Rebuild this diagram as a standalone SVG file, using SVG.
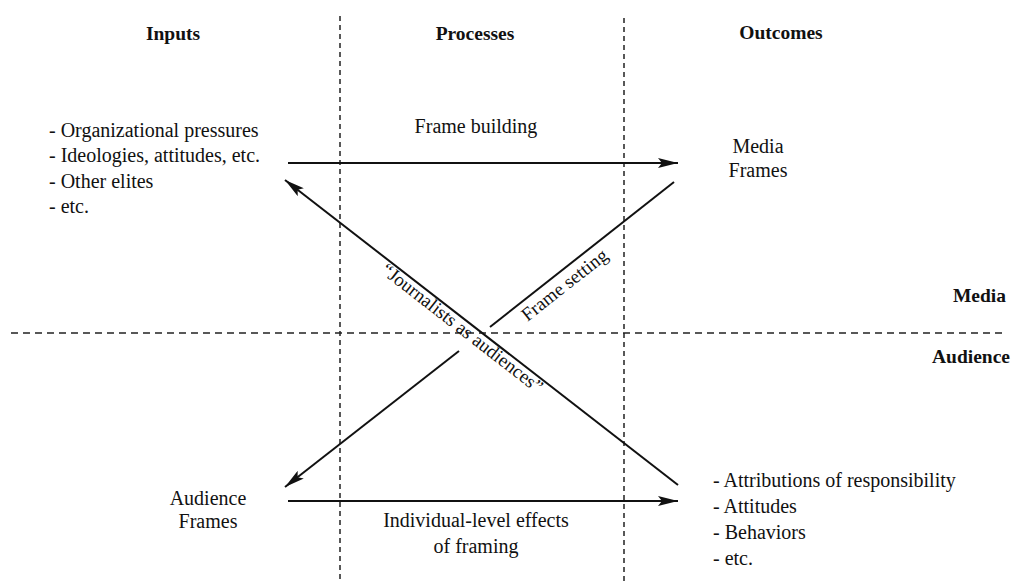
<svg xmlns="http://www.w3.org/2000/svg" width="1015" height="583" viewBox="0 0 1015 583">
  <style>
    text { font-family: "Liberation Serif", "Times New Roman", serif; fill: #111; font-size: 20px; }
    .hd { font-weight: bold; font-size: 19.5px; }
    .mid { text-anchor: middle; }
    .end { text-anchor: end; }
    .diag { font-size: 19px; }
    .grid { stroke: #222; stroke-width: 1.5; fill: none; }
    .vdash { stroke-dasharray: 5 4; }
    .hdash { stroke-dasharray: 7 5; }
    .conn { stroke: #111; stroke-width: 2; fill: none; }
  </style>
  <defs>
    <marker id="arrow" markerUnits="userSpaceOnUse" markerWidth="20" markerHeight="10" refX="20" refY="5" orient="auto">
      <path d="M0,0 L20,5 L0,10 L4,5 Z" fill="#111"/>
    </marker>
  </defs>
  <rect width="1015" height="583" fill="#ffffff"/>

  <g id="grid">
    <line class="grid vdash" x1="340" y1="16" x2="340" y2="583"/>
    <line class="grid vdash" x1="624" y1="18" x2="624" y2="583"/>
    <line class="grid hdash" x1="11" y1="333" x2="1004" y2="333"/>
  </g>

  <g id="headers">
    <text class="hd mid" x="173" y="40">Inputs</text>
    <text class="hd mid" x="475" y="40">Processes</text>
    <text class="hd mid" x="781" y="39">Outcomes</text>
    <text class="hd end" x="1006" y="302">Media</text>
    <text class="hd end" x="1010" y="363">Audience</text>
  </g>

  <g id="inputs">
    <text x="49" y="137">- Organizational pressures</text>
    <text x="49" y="162">- Ideologies, attitudes, etc.</text>
    <text x="49" y="188">- Other elites</text>
    <text x="49" y="213">- etc.</text>
  </g>

  <g id="media-frames">
    <text class="mid" x="758" y="153">Media</text>
    <text class="mid" x="758" y="177">Frames</text>
  </g>

  <g id="audience-frames">
    <text class="mid" x="208" y="505">Audience</text>
    <text class="mid" x="208" y="528">Frames</text>
  </g>

  <g id="outcomes">
    <text x="713" y="487">- Attributions of responsibility</text>
    <text x="713" y="513">- Attitudes</text>
    <text x="713" y="539">- Behaviors</text>
    <text x="713" y="565">- etc.</text>
  </g>

  <g id="connectors">
    <line class="conn" x1="288" y1="163" x2="678" y2="163" marker-end="url(#arrow)"/>
    <line class="conn" x1="288" y1="501" x2="678" y2="501" marker-end="url(#arrow)"/>
    <line class="conn" x1="678" y1="485" x2="285" y2="180" marker-end="url(#arrow)"/>
    <line class="conn" x1="674" y1="182" x2="490" y2="327"/>
    <line class="conn" x1="459" y1="351" x2="285" y2="487" marker-end="url(#arrow)"/>
  </g>

  <g id="connector-labels">
    <text class="mid" x="476" y="133">Frame building</text>
    <text class="mid" x="476" y="527">Individual-level effects</text>
    <text class="mid" x="476" y="553">of framing</text>
    <text class="mid diag" transform="translate(467,322) rotate(37.8)" x="0" y="14">“Journalists as audiences”</text>
    <text class="mid diag" transform="translate(559,278) rotate(-38.2)" x="0" y="15">Frame setting</text>
  </g>
</svg>
